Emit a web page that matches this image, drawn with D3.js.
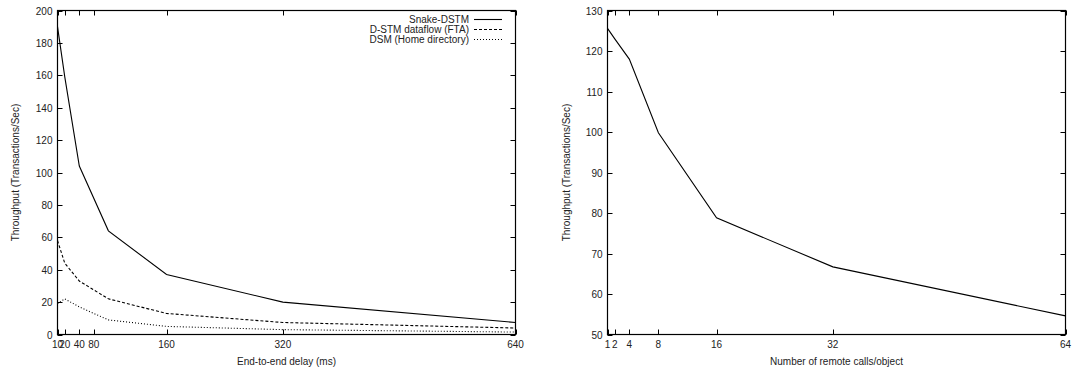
<!DOCTYPE html>
<meta charset="utf-8">
<style>
body { margin: 0; background: #fff; }
svg { display: block; }
text { font-family: "Liberation Sans", Arial, sans-serif; font-size: 10px; fill: #222; }
.frame { fill: none; stroke: #000; stroke-width: 1.2px; }
.tick line { stroke: #000; stroke-width: 1px; }
.line { fill: none; stroke: #000; stroke-width: 1.1px; }
</style>
<body>
<script src="https://d3js.org/d3.v7.min.js"></script>
<script>
// left chart: throughput vs end-to-end delay
var delays = [10, 20, 40, 80, 160, 320, 640];
var snakeDSTM = [190, 159, 104, 64, 37, 20, 7.4];
var dstmFTA = [58, 44, 33, 22, 13, 7.4, 4];
var dsmHome = [19, 22, 17, 9, 5, 3, 1.5];
// gnuplot put the "80" label at 60, keep that quirk
var delayTickPos = [10, 20, 40, 60, 160, 320, 640];
var delayTickLabels = ["10", "20", "40", "80", "160", "320", "640"];
var leftYTicks = [0, 20, 40, 60, 80, 100, 120, 140, 160, 180, 200];

// right chart: throughput vs remote calls per object
var calls = [1, 2, 4, 8, 16, 32, 64];
var callsThroughput = [125.6, 123, 118, 99.8, 78.8, 66.7, 54.6];
var callTicks = [1, 2, 4, 8, 16, 32, 64];
var rightYTicks = [50, 60, 70, 80, 90, 100, 110, 120, 130];

var series = [
    {name: "Snake-DSTM", values: snakeDSTM, dash: null},
    {name: "D-STM dataflow (FTA)", values: dstmFTA, dash: "3,2"},
    {name: "DSM (Home directory)", values: dsmHome, dash: "1,2"}
];

var W = 1074, H = 369;
var svg = d3.select("body").append("svg").attr("width", W).attr("height", H);

var plotTop = 10.5, plotBottom = 334.5;

function panel(opts) {
    var x = d3.scaleLinear().domain(opts.xDomain).range([opts.x0, opts.x1]);
    var y = d3.scaleLinear().domain(opts.yDomain).range([plotBottom, plotTop]);
    var g = svg.append("g");

    // ticks, mirrored on all four sides, pointing inward
    var tl = 5;
    g.selectAll(".xt").data(opts.xTicks).enter().append("g").attr("class", "tick")
        .each(function(d) {
            var s = d3.select(this), px = Math.round(x(d)) + 0.5;
            s.append("line").attr("x1", px).attr("x2", px).attr("y1", plotBottom).attr("y2", plotBottom - tl);
            s.append("line").attr("x1", px).attr("x2", px).attr("y1", plotTop).attr("y2", plotTop + tl);
        });
    g.selectAll(".yt").data(opts.yTicks).enter().append("g").attr("class", "tick")
        .each(function(d) {
            var s = d3.select(this), py = Math.round(y(d)) + 0.5;
            s.append("line").attr("x1", opts.x0).attr("x2", opts.x0 + tl).attr("y1", py).attr("y2", py);
            s.append("line").attr("x1", opts.x1).attr("x2", opts.x1 - tl).attr("y1", py).attr("y2", py);
            s.append("text").attr("x", opts.x0 - 5).attr("y", py).attr("dy", "0.35em")
                .attr("text-anchor", "end").text(d);
        });
    g.selectAll(".xl").data(opts.xTicks).enter().append("text")
        .attr("x", function(d) { return x(d); })
        .attr("y", 348)
        .attr("text-anchor", "middle")
        .text(function(d, i) { return opts.xLabels[i]; });

    g.append("rect").attr("class", "frame")
        .attr("x", opts.x0).attr("y", plotTop)
        .attr("width", opts.x1 - opts.x0).attr("height", plotBottom - plotTop);

    // axis titles
    g.append("text").attr("x", (opts.x0 + opts.x1) / 2).attr("y", 365)
        .attr("text-anchor", "middle").text(opts.xTitle);
    g.append("text")
        .attr("transform", "translate(" + opts.yTitleX + "," + ((plotTop + plotBottom) / 2) + ") rotate(-90)")
        .attr("text-anchor", "middle").attr("dy", "0.35em").text("Throughput (Transactions/Sec)");

    var line = d3.line()
        .x(function(d, i) { return x(opts.xs[i]); })
        .y(function(d) { return y(d); });
    opts.series.forEach(function(s) {
        g.append("path").attr("class", "line")
            .attr("d", line(s.values))
            .attr("stroke-dasharray", s.dash);
    });
    return g;
}

var left = panel({
    x0: 57.5, x1: 515.5,
    xDomain: [10, 640], yDomain: [0, 200],
    xTicks: delayTickPos, xLabels: delayTickLabels, yTicks: leftYTicks,
    xs: delays, series: series,
    xTitle: "End-to-end delay (ms)", yTitleX: 15
});

panel({
    x0: 607.5, x1: 1065.5,
    xDomain: [1, 64], yDomain: [50, 130],
    xTicks: callTicks, xLabels: callTicks.map(String), yTicks: rightYTicks,
    xs: calls, series: [{name: "", values: callsThroughput, dash: null}],
    xTitle: "Number of remote calls/object", yTitleX: 566
});

// legend, top right of the left chart
var leg = left.selectAll(".legend").data(series).enter().append("g")
    .attr("transform", function(d, i) { return "translate(0," + (19 + i * 10) + ")"; });
leg.append("text").attr("x", 469).attr("dy", "0.35em")
    .attr("text-anchor", "end").text(function(d) { return d.name; });
leg.append("line").attr("class", "line")
    .attr("x1", 474).attr("x2", 502).attr("y1", 0.5).attr("y2", 0.5)
    .attr("stroke-dasharray", function(d) { return d.dash; });
</script>
</body>
